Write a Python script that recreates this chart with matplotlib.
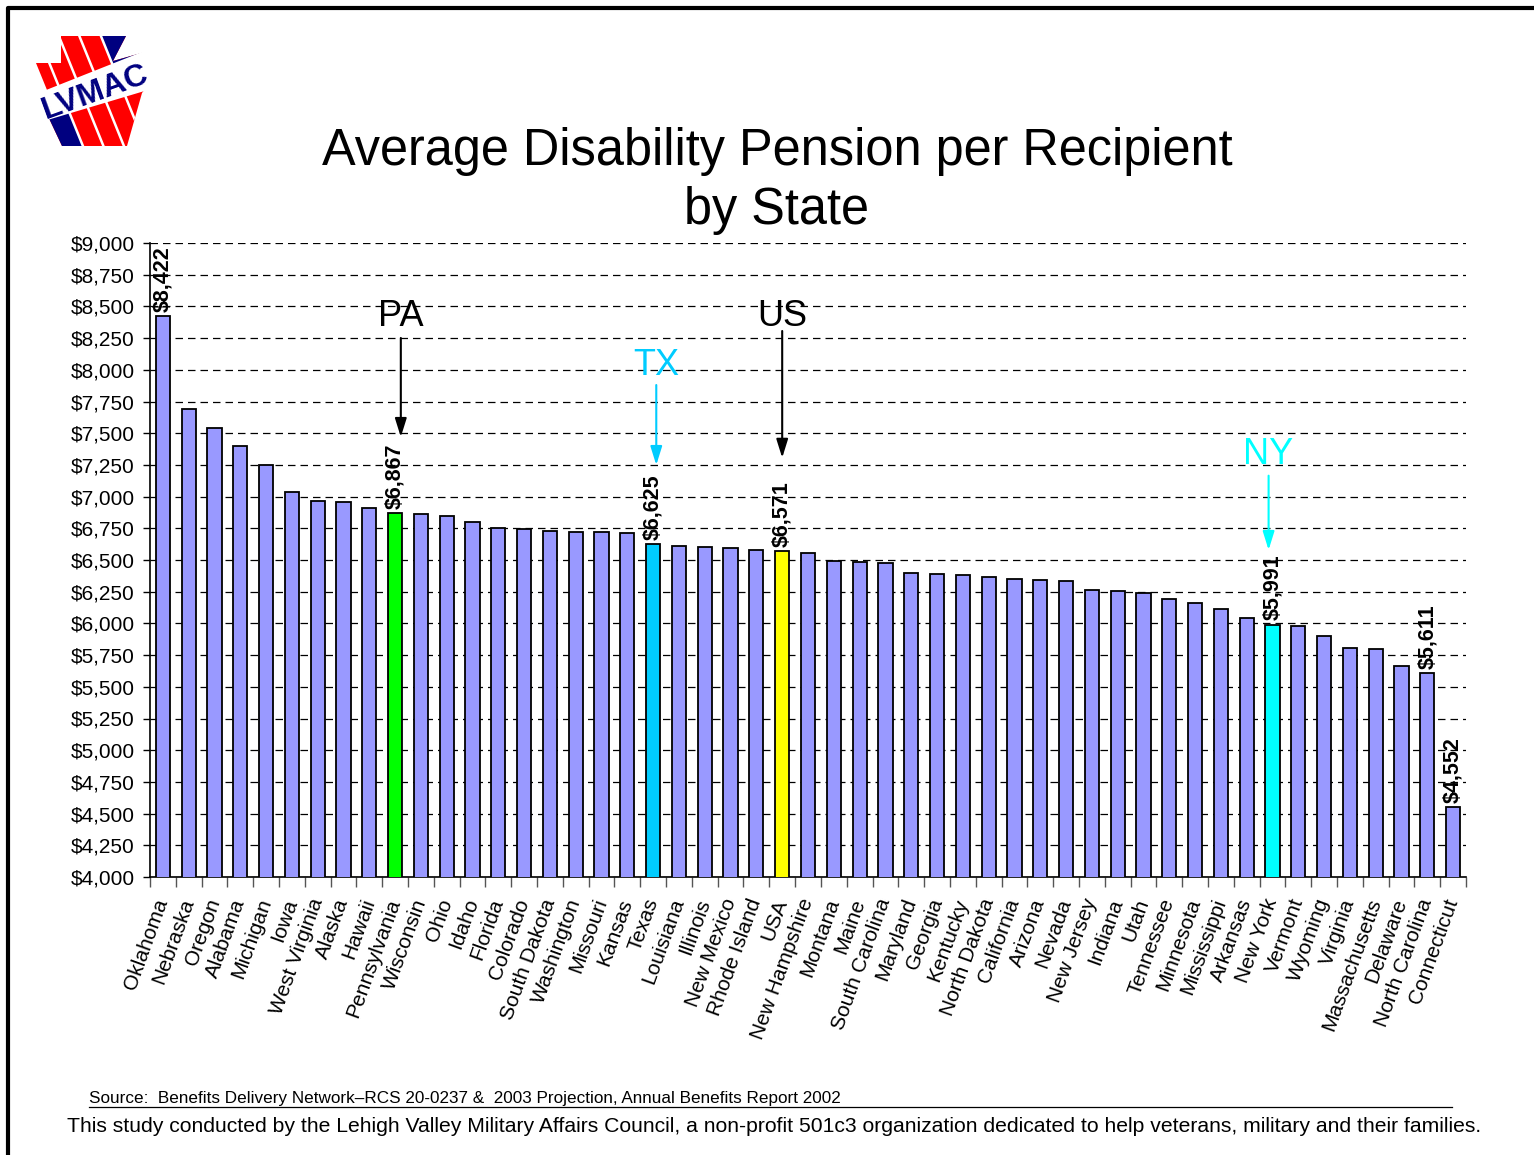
import numpy as np
import matplotlib.pyplot as plt
from matplotlib.patches import Polygon
from matplotlib.ticker import MultipleLocator, FuncFormatter

plt.rcParams['font.family'] = ['Liberation Sans', 'DejaVu Sans']

# Average disability pension per recipient, sorted high to low
states = ['Oklahoma', 'Nebraska', 'Oregon', 'Alabama', 'Michigan', 'Iowa',
          'West Virginia', 'Alaska', 'Hawaii', 'Pennsylvania', 'Wisconsin',
          'Ohio', 'Idaho', 'Florida', 'Colorado', 'South Dakota', 'Washington',
          'Missouri', 'Kansas', 'Texas', 'Louisiana', 'Illinois', 'New Mexico',
          'Rhode Island', 'USA', 'New Hampshire', 'Montana', 'Maine',
          'South Carolina', 'Maryland', 'Georgia', 'Kentucky', 'North Dakota',
          'California', 'Arizona', 'Nevada', 'New Jersey', 'Indiana', 'Utah',
          'Tennessee', 'Minnesota', 'Mississippi', 'Arkansas', 'New York',
          'Vermont', 'Wyoming', 'Virginia', 'Massachusetts', 'Delaware',
          'North Carolina', 'Connecticut']
pension = [8422, 7690, 7543, 7399, 7249, 7036, 6968, 6957, 6910, 6867, 6862,
           6849, 6800, 6750, 6742, 6731, 6721, 6720, 6715, 6625, 6613, 6602,
           6594, 6575, 6571, 6558, 6495, 6484, 6474, 6400, 6390, 6379, 6369,
           6348, 6342, 6332, 6263, 6258, 6242, 6192, 6161, 6111, 6040, 5991,
           5982, 5901, 5806, 5798, 5664, 5611, 4552]

highlight = {'Pennsylvania': '#00FF00', 'Texas': '#00CCFF',
             'USA': '#FFFF00', 'New York': '#00FFFF'}
value_labels = ['Oklahoma', 'Pennsylvania', 'Texas', 'USA', 'New York',
                'North Carolina', 'Connecticut']

W, H = 1534, 1155
fig = plt.figure(figsize=(W / 100, H / 100), dpi=100)

# ---- main bar chart ----
ax = fig.add_axes([150 / W, 1 - 877 / H, (1466 - 150) / W, (877 - 243) / H])
x = np.arange(len(states))
colors = [highlight.get(s, '#9999FF') for s in states]
ax.bar(x, pension, width=0.55, color=colors, edgecolor='black',
       linewidth=1.3, zorder=3)

ax.set_xlim(-0.5, len(states) - 0.5)
ax.set_ylim(4000, 9000)
ax.yaxis.set_major_locator(MultipleLocator(250))
ax.yaxis.set_major_formatter(FuncFormatter(lambda v, p: '${:,.0f}'.format(v)))
ax.grid(axis='y', color='black', linestyle=(0, (6, 4)), linewidth=0.9)
ax.set_axisbelow(True)
for side in ['top', 'right']:
    ax.spines[side].set_visible(False)
ax.spines['left'].set_linewidth(1.2)
ax.spines['bottom'].set_linewidth(1.2)

ax.set_xticks(x)
ax.set_xticklabels(states, rotation=70, ha='right', va='center',
                   rotation_mode='anchor', fontsize=15)
ax.tick_params(axis='x', which='major', length=0, pad=16)
ax.set_xticks(np.arange(-0.5, len(states)), minor=True)
ax.tick_params(axis='x', which='minor', length=7, width=1, color='#555555')
ax.tick_params(axis='y', length=5, width=1, labelsize=15, pad=6)

for name in value_labels:
    i = states.index(name)
    ax.annotate('${:,.0f}'.format(pension[i]), (i, pension[i]),
                xytext=(0, 3), textcoords='offset points', rotation=90,
                ha='center', va='bottom', fontsize=15.5, fontweight='bold')

# callouts with arrows
def callout(label, xpos, ytext, ytop, ytip, color):
    ax.text(xpos, ytext, label, color=color, fontsize=26, ha='center',
            va='center')
    ax.annotate('', xy=(xpos, ytip), xytext=(xpos, ytop),
                arrowprops=dict(arrowstyle='-|>,head_length=0.8,head_width=0.25',
                                color=color, lw=1.5, mutation_scale=14,
                                shrinkA=0, shrinkB=0))

callout('PA', 9.22, 8420, 8251, 7470, 'black')
callout('TX', 19.12, 8030, 7880, 7249, '#00CCFF')
callout('US', 24.0, 8420, 8306, 7306, 'black')
callout('NY', 42.85, 7335, 7165, 6579, '#00FFFF')

# ---- titles and footer ----
fig.text(777 / W, 1 - 181 / H, 'Average Disability Pension per Recipient\nby State',
         ha='center', va='center', fontsize=36.4, linespacing=1.28)
fig.text(89 / W, 1 - 1099 / H,
         'Source:  Benefits Delivery Network\u2013RCS 20-0237 &  2003 Projection, '
         'Annual Benefits Report 2002', ha='left', va='center', fontsize=12.3)
fig.text(67 / W, 1 - 1126 / H,
         'This study conducted by the Lehigh Valley Military Affairs Council, a '
         'non-profit 501c3 organization dedicated to help veterans, military and '
         'their families.', ha='left', va='center', fontsize=15.2)

# ---- overlay in pixel coordinates: frame, rule and logo ----
ov = fig.add_axes([0, 0, 1, 1], zorder=-1)
ov.set_xlim(0, W)
ov.set_ylim(H, 0)
ov.axis('off')
ov.plot([8, 8, W], [H, 8, 8], color='black', lw=3, solid_capstyle='butt')
ov.plot([89, 1452], [1107, 1107], color='black', lw=0.9)

logo_ax = fig.add_axes([0, 0, 1, 1], zorder=5)
logo_ax.set_xlim(0, W)
logo_ax.set_ylim(H, 0)
logo_ax.axis('off')

red, navy = '#FF0000', '#000080'
d = np.array([45.0, 111.0]) / np.hypot(45, 111)
n = np.array([d[1], -d[0]])

def stripe_pt(c, y):
    # point at height y on the slanted stripe line with offset c
    return ((c - n[1] * y) / n[0], y)

keystone = Polygon([(36, 63), (61, 63), (61, 36), (126, 36), (113, 61),
                    (145, 52), (145, 89), (142, 93), (127, 146), (62, 146),
                    (46, 112), (47, 90)],
                   closed=True, facecolor=red, edgecolor='none')
logo_ax.add_patch(keystone)

blue_low = Polygon([stripe_pt(-10, 95), stripe_pt(22, 95), stripe_pt(22, 150),
                    stripe_pt(-10, 150)], closed=True, facecolor=navy,
                   edgecolor='none')
logo_ax.add_patch(blue_low)
blue_low.set_clip_path(keystone)
blue_top = Polygon([stripe_pt(80, 30), stripe_pt(140, 30), stripe_pt(140, 75),
                    stripe_pt(80, 75)], closed=True, facecolor=navy,
                   edgecolor='none')
logo_ax.add_patch(blue_top)
blue_top.set_clip_path(keystone)

for c in [22, 41, 60, 80]:
    p0, p1 = stripe_pt(c, 20), stripe_pt(c, 160)
    ln, = logo_ax.plot([p0[0], p1[0]], [p0[1], p1[1]], color='white', lw=1.8)
    ln.set_clip_path(keystone)

# white band carrying the letters
band = Polygon([(30, 96.4), (160, 44.8), (160, 86.4), (30, 125.2)], closed=True,
               facecolor='white', edgecolor='none')
logo_ax.add_patch(band)
logo_ax.text(95, 92, 'LVMAC', color=navy, fontsize=23, fontweight='bold',
             rotation=20, ha='center', va='center', rotation_mode='anchor')

fig.savefig('out.png', dpi=100)
